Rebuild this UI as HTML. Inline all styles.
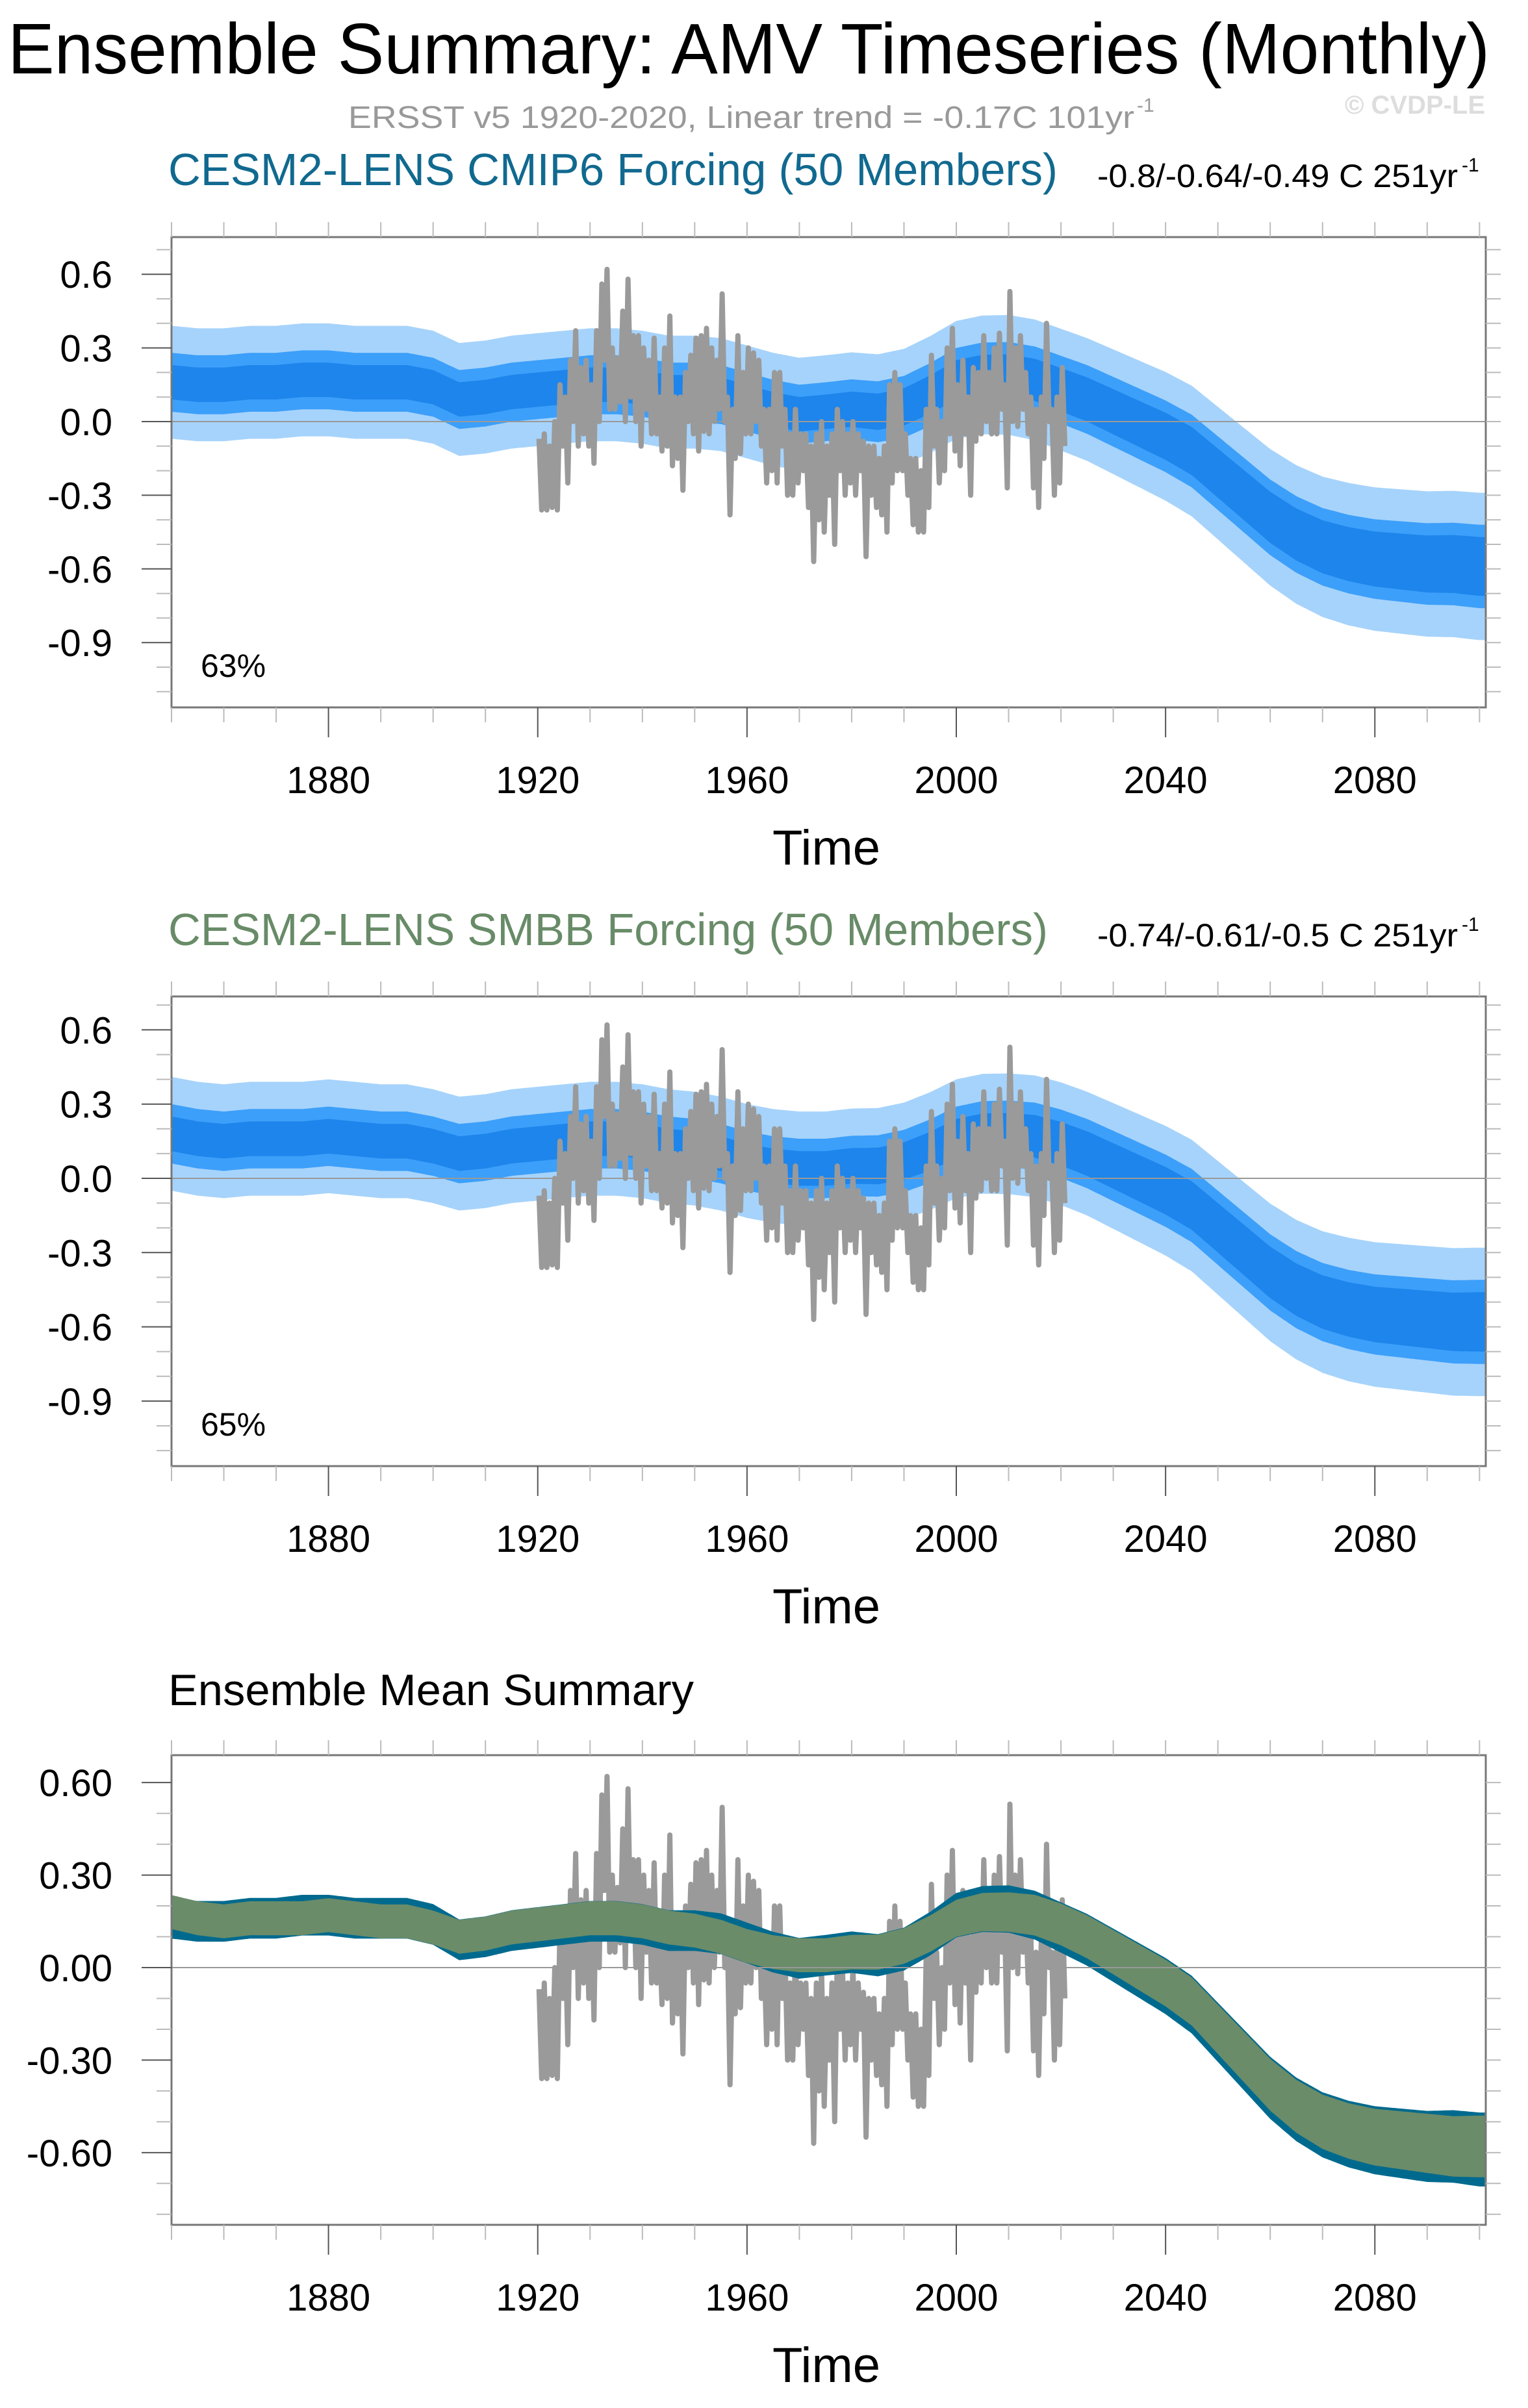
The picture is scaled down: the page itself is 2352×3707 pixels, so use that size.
<!DOCTYPE html>
<html><head><meta charset="utf-8"><style>
html,body{margin:0;padding:0;background:#fff}
svg{display:block}
text{font-family:"Liberation Sans",sans-serif}
</style></head><body>
<svg id="fig" width="2352" height="3707" viewBox="0 0 2352 3707" xmlns="http://www.w3.org/2000/svg">
<text x="12" y="113" font-size="110" textLength="2281" lengthAdjust="spacingAndGlyphs">Ensemble Summary: AMV Timeseries (Monthly)</text>
<text x="536" y="197" font-size="48" fill="#999" textLength="1210" lengthAdjust="spacingAndGlyphs">ERSST v5 1920-2020, Linear trend = -0.17C 101yr</text>
<text x="1750" y="172" font-size="30" fill="#999">-1</text>
<text x="2070" y="175" font-size="40" font-weight="bold" fill="#ddd" textLength="216" lengthAdjust="spacingAndGlyphs">© CVDP-LE</text>

<text x="259" y="285" font-size="70" fill="#11698f" textLength="1369" lengthAdjust="spacingAndGlyphs">CESM2-LENS CMIP6 Forcing (50 Members)</text>
<text x="1689" y="288" font-size="50" textLength="555" lengthAdjust="spacingAndGlyphs">-0.8/-0.64/-0.49 C 251yr</text>
<text x="2250" y="264" font-size="30">-1</text>

<text x="259" y="1455" font-size="70" fill="#688b68" textLength="1354" lengthAdjust="spacingAndGlyphs">CESM2-LENS SMBB Forcing (50 Members)</text>
<text x="1689" y="1457" font-size="50" textLength="555" lengthAdjust="spacingAndGlyphs">-0.74/-0.61/-0.5 C 251yr</text>
<text x="2250" y="1433" font-size="30">-1</text>

<text x="259" y="2625" font-size="68" textLength="809" lengthAdjust="spacingAndGlyphs">Ensemble Mean Summary</text>
<g id="plots"></g>
</svg>
<script>
// categories (5-year nodes starting 1850)
const meanStart = 1850;
const meanStep = 5;
const meanCMIP6 = [0.16,0.15,0.15,0.16,0.16,0.17,0.17,0.16,0.16,0.16,0.14,0.09,0.10,0.12,0.13,0.14,0.15,0.15,0.14,0.12,0.12,0.11,0.08,0.05,0.03,0.04,0.05,0.04,0.06,0.11,0.17,0.19,0.19,0.17,0.13,0.09,0.04,-0.01,-0.06,-0.12,-0.21,-0.30,-0.39,-0.46,-0.51,-0.54,-0.56,-0.57,-0.58,-0.58,-0.59];
const meanSMBB = [0.18,0.16,0.15,0.16,0.16,0.16,0.17,0.16,0.15,0.15,0.13,0.10,0.11,0.13,0.14,0.15,0.16,0.16,0.15,0.13,0.12,0.10,0.07,0.05,0.04,0.04,0.05,0.05,0.07,0.11,0.16,0.18,0.18,0.17,0.14,0.10,0.05,0.00,-0.05,-0.11,-0.20,-0.29,-0.38,-0.45,-0.50,-0.53,-0.55,-0.56,-0.57,-0.58,-0.58];
// spread half-widths at 25-year nodes
const spreadStep = 25;
const spreadLight = [0.23,0.23,0.23,0.23,0.23,0.23,0.24,0.25,0.27,0.29,0.30];
const spreadMid = [0.12,0.12,0.12,0.12,0.12,0.12,0.13,0.14,0.15,0.16,0.17];
const spreadDark = [0.07,0.07,0.07,0.07,0.07,0.07,0.08,0.09,0.10,0.11,0.12];
const emSpread = [0.055,0.055,0.055,0.055,0.055,0.055,0.06,0.07,0.08,0.09,0.10];
// observations ERSST v5 1920-2020 annual max / min
const obsStart = 1920;
const obsMax = [-0.07,-0.05,-0.1,0.0,0.15,0.1,0.25,0.37,0.22,0.25,0.15,0.37,0.56,0.62,0.3,0.26,0.45,0.58,0.35,0.35,0.3,0.25,0.34,0.1,0.3,0.43,0.1,0.1,0.2,0.27,0.34,0.35,0.38,0.3,0.25,0.52,0.1,0.05,0.35,0.2,0.3,0.28,0.25,0.05,0.05,0.2,0.2,0.05,-0.05,0.05,-0.05,-0.05,-0.1,-0.05,0.0,-0.1,-0.05,0.05,0.0,-0.05,0.0,-0.05,-0.08,-0.1,-0.1,-0.15,-0.1,0.15,0.2,0.15,-0.05,-0.15,-0.15,-0.2,0.05,0.27,0.05,0.0,0.3,0.38,0.15,0.25,0.1,0.22,0.2,0.35,0.2,0.3,0.36,0.15,0.53,0.3,0.35,0.2,0.1,0.05,0.1,0.4,0.05,0.1,0.22];
const obsMin = [-0.36,-0.36,-0.35,-0.36,-0.1,-0.25,0.0,-0.1,-0.05,-0.1,-0.17,0.0,0.25,0.05,0.05,0.08,0.0,0.1,0.0,-0.1,0.05,-0.05,-0.05,-0.12,-0.1,-0.18,-0.15,-0.28,0.0,-0.05,-0.12,-0.04,-0.05,0.0,0.05,0.0,-0.38,-0.15,-0.13,-0.05,-0.05,0.0,-0.1,-0.25,-0.2,-0.25,-0.1,-0.3,-0.3,-0.25,-0.2,-0.35,-0.57,-0.4,-0.45,-0.3,-0.5,-0.2,-0.3,-0.25,-0.3,-0.2,-0.55,-0.3,-0.35,-0.38,-0.45,-0.25,-0.2,-0.2,-0.3,-0.42,-0.45,-0.45,-0.35,-0.1,-0.25,-0.2,-0.05,-0.12,-0.18,-0.05,-0.3,-0.08,-0.05,0.0,-0.05,-0.05,0.05,-0.27,0.0,-0.02,0.05,-0.05,-0.27,-0.35,-0.15,0.0,-0.3,-0.25,-0.1];
// axis ticks
const xMajor = [1880,1920,1960,2000,2040,2080];
const yMajorA = [0.6,0.3,0.0,-0.3,-0.6,-0.9];
const yLabelsA = ["0.6","0.3","0.0","-0.3","-0.6","-0.9"];
const yMajorC = [0.6,0.3,0.0,-0.3,-0.6];
const yLabelsC = ["0.60","0.30","0.00","-0.30","-0.60"];

const NS="http://www.w3.org/2000/svg";
const root=document.getElementById('plots');
const L=264,R=2287,X0=1850,X1=2101.2;
function xs(t){return L+(t-X0)/(X1-X0)*(R-L);}
function interp(arr,start,step,t){let f=(t-start)/step;let i=Math.max(0,Math.min(arr.length-2,Math.floor(f)));let r=f-i;r=Math.max(0,Math.min(1,r));return arr[i]*(1-r)+arr[i+1]*r;}
function mk(tag,attrs,parent){const e=document.createElementNS(NS,tag);for(const k in attrs)e.setAttribute(k,attrs[k]);parent.appendChild(e);return e;}

function band(g,ys,mean,spread,color,scale,name){
  let up=[],lo=[];
  for(let t=1850;t<=2101;t+=0.5){const m=interp(mean,meanStart,meanStep,t);const s=interp(spread,1850,spreadStep,t)*scale;up.push(xs(t).toFixed(1)+','+ys(m+s).toFixed(1));lo.push(xs(t).toFixed(1)+','+ys(m-s).toFixed(1));}
  const p=mk('polygon',{points:up.concat(lo.reverse()).join(' '),fill:color},g);
  
  
}
function obsLine(g,ys){
  let pts=[];
  for(let i=0;i<obsMax.length;i++){const y=obsStart+i;pts.push(xs(y+0.25).toFixed(1)+','+ys(obsMax[i]).toFixed(1));pts.push(xs(y+0.75).toFixed(1)+','+ys(obsMin[i]).toFixed(1));}
  const p=mk('polyline',{points:pts.join(' '),fill:'none',stroke:'#9a9a9a','stroke-width':8,'stroke-linejoin':'round'},g);
  
  
}
function axes(g,top,bot,ys,yMaj,yLab,yMin,yMaxV,id){
  const yz=ys(0);
  const z=mk('line',{x1:L,x2:R,y1:yz,y2:yz,stroke:'#999','stroke-width':2},g);
  
  
  const box=mk('rect',{x:L,y:top,width:R-L,height:bot-top,fill:'none',stroke:'#777','stroke-width':3},g);
  
  
  for(let yr=1850;yr<=2100;yr+=10){
    const x=xs(yr);const maj=xMajor.indexOf(yr)>=0;
    mk('line',{x1:x,x2:x,y1:bot,y2:bot+(maj?46:23),stroke:maj?'#555':'#bbb','stroke-width':2},g);
    mk('line',{x1:x,x2:x,y1:top,y2:top-23,stroke:'#bbb','stroke-width':2},g);
  }
  xMajor.forEach(yr=>{const t=mk('text',{x:xs(yr),y:bot+132,'font-size':58,'text-anchor':'middle'},g);t.textContent=yr;
    
    });
  for(let k=Math.ceil(yMin*10);k<=Math.floor(yMaxV*10);k++){
    const v=k/10;const y=ys(v);const maj=Math.abs(v*10%3)<1e-6;
    mk('line',{x1:L,x2:L-(maj?46:23),y1:y,y2:y,stroke:maj?'#555':'#bbb','stroke-width':2},g);
    mk('line',{x1:R,x2:R+23,y1:y,y2:y,stroke:'#bbb','stroke-width':2},g);
  }
  yMaj.forEach((v,i)=>{const t=mk('text',{x:173,y:ys(v)+21,'font-size':58,'text-anchor':'end'},g);t.textContent=yLab[i];
    
    });
  const tt=mk('text',{x:1272,y:bot+242,'font-size':76,'text-anchor':'middle'},g);tt.textContent='Time';
  
  
}
function clip(id,top,bot){const d=mk('clipPath',{id:id},root);mk('rect',{x:L,y:top,width:R-L,height:bot-top},d);}

function spreadPanel(n,top,bot,zero,ppu,mean,pct){
  const g=mk('g',{},root);
  
  
  const ys=v=>zero-v*ppu;
  clip('c'+n,top,bot);
  const d=mk('g',{'clip-path':'url(#c'+n+')'},g);
  band(d,ys,mean,spreadLight,'#a6d3fb',1,'ensemble-range-band');
  band(d,ys,mean,spreadMid,'#3c9ffa',1,'ensemble-iqr-band');
  band(d,ys,mean,spreadDark,'#1d85eb',1,'ensemble-mean-band');
  obsLine(d,ys);
  axes(g,top,bot,ys,yMajorA,yLabelsA,(zero-bot)/ppu,(zero-top)/ppu,n);
  const t=mk('text',{x:309,y:bot-47,'font-size':50},g);t.textContent=pct;
  
  
}
spreadPanel(1,365,1089,649,378,meanCMIP6,'63%');
spreadPanel(2,1534,2257,1814,381,meanSMBB,'65%');

(function(){
  const top=2702,bot=3425,zero=3029,ppu=474.7;
  const ys=v=>zero-v*ppu;
  const g=mk('g',{},root);
  
  
  clip('c3',top,bot);
  const d=mk('g',{'clip-path':'url(#c3)'},g);
  obsLine(d,ys);
  band(d,ys,meanCMIP6,emSpread,'#006a8e',1.2,'cmip6-ensemble-mean');
  band(d,ys,meanSMBB,emSpread,'#6a8c69',1,'smbb-ensemble-mean');
  axes(g,top,bot,ys,yMajorC,yLabelsC,(zero-bot)/ppu,(zero-top)/ppu,3);
})();
</script>
</body></html>
